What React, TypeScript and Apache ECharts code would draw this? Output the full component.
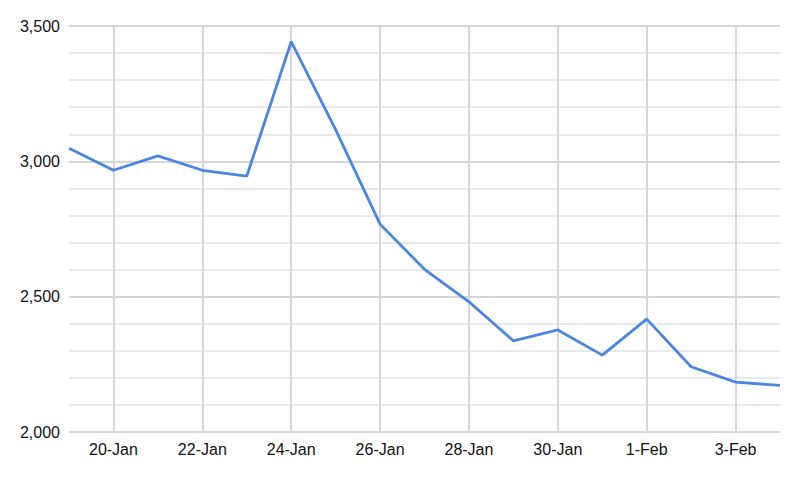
import React, { useEffect, useRef } from "react";
import * as echarts from "echarts";

const dates = [
  "19-Jan", "20-Jan", "21-Jan", "22-Jan", "23-Jan", "24-Jan", "25-Jan", "26-Jan",
  "27-Jan", "28-Jan", "29-Jan", "30-Jan", "31-Jan", "1-Feb", "2-Feb", "3-Feb", "4-Feb",
];
const values = [
  3048, 2967, 3020, 2967, 2945, 3442, 3117, 2768,
  2601, 2481, 2337, 2377, 2284, 2417, 2241, 2184, 2172,
];
const yMin = 2000;
const yMax = 3500;
const yStep = 500;

export default function App() {
  const ref = useRef<HTMLDivElement>(null);
  useEffect(() => {
    if (!ref.current) return;
    const chart = echarts.init(ref.current, undefined, { renderer: "svg" });
    const showOdd = (i: number) => i % 2 === 1;
    chart.setOption({
      animation: false,
      backgroundColor: "#ffffff",
      grid: { left: 69, right: 20, top: 26, bottom: 45, containLabel: false },
      xAxis: {
        type: "category",
        boundaryGap: false,
        data: dates,
        axisLine: { show: false },
        axisTick: { show: false },
        axisLabel: {
          interval: showOdd,
          color: "#111111",
          fontFamily: "Liberation Sans, Arial, sans-serif",
          fontSize: 16,
          margin: 9,
        },
        splitLine: {
          show: true,
          interval: showOdd,
          lineStyle: { color: "#d6d5da", width: 2 },
        },
      },
      yAxis: {
        type: "value",
        min: yMin,
        max: yMax,
        interval: yStep,
        axisLine: { show: false },
        axisTick: { show: false },
        axisLabel: {
          color: "#111111",
          fontFamily: "Liberation Sans, Arial, sans-serif",
          fontSize: 16,
          margin: 9,
          formatter: (v: number) => v.toLocaleString("en-US"),
        },
        splitLine: { show: true, lineStyle: { color: "#d6d5da", width: 2 } },
        minorTick: { show: false, splitNumber: 5 },
        minorSplitLine: { show: true, lineStyle: { color: "#e9e9ed", width: 2 } },
      },
      series: [
        {
          type: "line",
          data: values,
          symbol: "none",
          lineStyle: { color: "#4a86e0", width: 2.8 },
          itemStyle: { color: "#4a86e0" },
        },
      ],
    });
    return () => chart.dispose();
  }, []);
  return (
    <div
      ref={ref}
      style={{ position: "fixed", left: 0, top: 0, width: 800, height: 477, background: "#fff" }}
    />
  );
}
